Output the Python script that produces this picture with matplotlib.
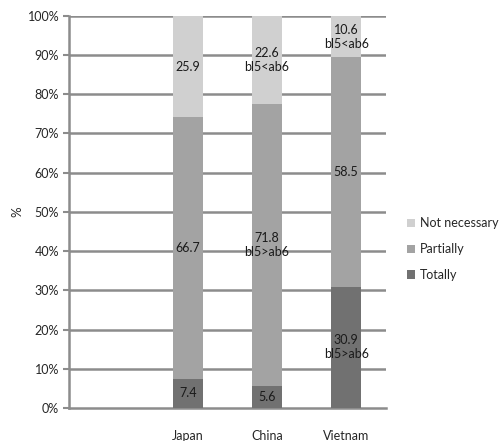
import numpy as np
import matplotlib
matplotlib.use("Agg")
import matplotlib.pyplot as plt
from matplotlib.patches import Patch

plt.rcParams['font.family'] = ['Lato', 'DejaVu Sans']

countries = ["Japan", "China", "Vietnam"]
totally = [7.4, 5.6, 30.9]
partially = [66.7, 71.8, 58.5]
not_necessary = [25.9, 22.6, 10.6]

# comparison notes printed under the value of a segment
notes_totally = ["", "", "bl5>ab6"]
notes_partially = ["", "bl5>ab6", ""]
notes_not_necessary = ["", "bl5<ab6", "bl5<ab6"]

y_ticks = list(range(0, 101, 10))

col_tot = "#717171"
col_par = "#a3a3a3"
col_not = "#d0d0d0"
grid_col = "#8c8c8c"
text_col = "#1a1a1a"
label_col = "#262626"

fig = plt.figure(figsize=(5.03, 4.41), dpi=100)
ax = fig.add_axes([0.137, 0.075, 0.630, 0.889])

x = np.arange(1, len(countries) + 1)
w = 0.38

series = [
    (totally, notes_totally, col_tot, "Totally"),
    (partially, notes_partially, col_par, "Partially"),
    (not_necessary, notes_not_necessary, col_not, "Not necessary"),
]

bottom = np.zeros(len(countries))
for vals, notes, col, name in series:
    vals = np.array(vals)
    ax.bar(x, vals, w, bottom=bottom, color=col, zorder=3, linewidth=0)
    for xi, b, v, note in zip(x, bottom, vals, notes):
        label = f"{v:.1f}" if not note else f"{v:.1f}\n{note}"
        ax.text(xi, b + v / 2, label, ha="center", va="center",
                fontsize=9, color=text_col, zorder=4, linespacing=1.2)
    bottom += vals

ax.set_xlim(-0.5, 3.5)
ax.set_ylim(0, 100)
ax.set_yticks(y_ticks)
ax.set_yticklabels([f"{t}%" for t in y_ticks])
ax.set_xticks(x)
ax.set_xticklabels(countries)

for t in y_ticks[1:]:
    ax.axhline(t, color=grid_col, lw=1.8, zorder=1)

for s in ["top", "right"]:
    ax.spines[s].set_visible(False)
for s in ["left", "bottom"]:
    ax.spines[s].set_color(grid_col)
    ax.spines[s].set_linewidth(1.8)
    ax.spines[s].set_zorder(2)

ax.tick_params(axis="y", length=4, width=1.5, color=grid_col, pad=3,
               labelsize=9, labelcolor=label_col)
ax.tick_params(axis="x", length=0, pad=16, labelsize=9,
               labelcolor=label_col)
ax.set_ylabel("%", fontsize=9.5, color=label_col, labelpad=3)

handles = [Patch(facecolor=col_not, label="Not necessary"),
           Patch(facecolor=col_par, label="Partially"),
           Patch(facecolor=col_tot, label="Totally")]
fig.legend(handles=handles, loc="center left",
           bbox_to_anchor=(0.787, 0.435), frameon=False,
           fontsize=9, handlelength=0.65, handleheight=0.65,
           handletextpad=0.35, labelspacing=1.1, labelcolor=label_col)

fig.savefig("out.png", dpi=100)
